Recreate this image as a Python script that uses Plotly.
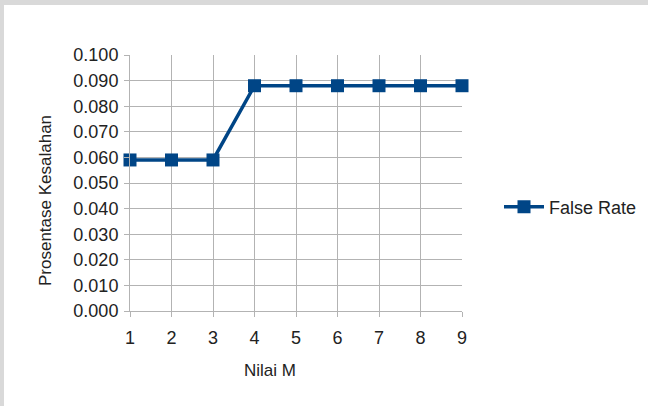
import plotly.graph_objects as go

# Nilai M vs. error rate
m_values = [1, 2, 3, 4, 5, 6, 7, 8, 9]
false_rate = [0.059, 0.059, 0.059, 0.088, 0.088, 0.088, 0.088, 0.088, 0.088]
y_ticks = [0.0, 0.01, 0.02, 0.03, 0.04, 0.05, 0.06, 0.07, 0.08, 0.09, 0.1]
y_tick_labels = [f"{v:.3f}" for v in y_ticks]

W, H = 648, 406
L, R, T, B = 130, 186, 55, 95
pw, ph = W - L - R, H - T - B

def px_x(x):
    return (x - L) / pw

def px_y(y):
    return (H - B - y) / ph

fig = go.Figure()
fig.add_trace(go.Scatter(
    x=m_values, y=false_rate, name="False Rate", mode="lines+markers",
    line=dict(color="#004586", width=3.5),
    marker=dict(symbol="square", size=13, color="#004586"),
    cliponaxis=False,
))

grid = "#b3b3b3"
font = "Liberation Sans, Arial, sans-serif"

fig.update_layout(
    width=W, height=H,
    margin=dict(l=L, r=R, t=T, b=B, autoexpand=False),
    paper_bgcolor="white", plot_bgcolor="white",
    font=dict(family=font, color="#222222"),
    showlegend=True,
    legend=dict(x=px_x(499), y=px_y(207), xanchor="left", yanchor="middle",
                itemwidth=40,
                font=dict(size=18, family=font), bgcolor="rgba(0,0,0,0)"),
    xaxis=dict(
        range=[1, 9], tickmode="array", tickvals=m_values,
        showgrid=True, gridcolor=grid, gridwidth=1,
        showline=True, linecolor=grid, linewidth=1, mirror=False,
        ticks="outside", ticklen=5, tickcolor=grid,
        tickfont=dict(size=18), zeroline=False, ticklabelstandoff=5,
    ),
    yaxis=dict(
        range=[0, 0.1], tickmode="array", tickvals=y_ticks, ticktext=y_tick_labels,
        showgrid=True, gridcolor=grid, gridwidth=1,
        showline=True, linecolor=grid, linewidth=1,
        ticks="outside", ticklen=5, tickcolor=grid,
        tickfont=dict(size=18), zeroline=False, ticklabelstandoff=2,
    ),
    annotations=[
        dict(text="Nilai M", xref="paper", yref="paper",
             x=px_x(270), y=px_y(370), xanchor="center", yanchor="middle",
             showarrow=False, font=dict(size=17, family=font)),
        dict(text="Prosentase Kesalahan", xref="paper", yref="paper",
             x=px_x(45), y=px_y(201), xanchor="center", yanchor="middle",
             textangle=-90, showarrow=False, font=dict(size=17, family=font)),
    ],
    shapes=[
        dict(type="rect", xref="paper", yref="paper",
             x0=px_x(0), x1=px_x(W), y0=px_y(5), y1=px_y(0),
             fillcolor="#d9d9d9", line=dict(width=0), layer="below"),
        dict(type="rect", xref="paper", yref="paper",
             x0=px_x(0), x1=px_x(4), y0=px_y(H), y1=px_y(0),
             fillcolor="#d9d9d9", line=dict(width=0), layer="below"),
    ],
)

fig.write_html("out.html")
